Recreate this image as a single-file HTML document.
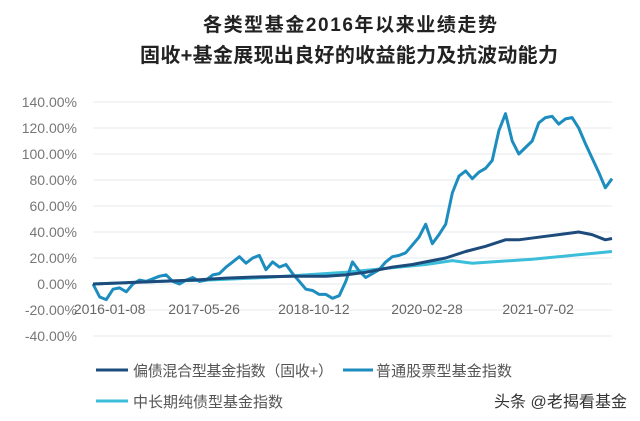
<!DOCTYPE html>
<html><head><meta charset="utf-8"><style>
body{margin:0;background:#fff;}
svg{display:block;font-family:"Liberation Sans","Noto Sans CJK SC",sans-serif;}
</style></head><body>
<svg id="chart" width="640" height="421" viewBox="0 0 640 421">
<text x="350" y="31" text-anchor="middle" font-size="19" font-weight="bold" fill="#222" textLength="294">各类型基金2016年以来业绩走势</text>
<text x="349" y="62" text-anchor="middle" font-size="20" font-weight="bold" fill="#222" textLength="418">固收+基金展现出良好的收益能力及抗波动能力</text>
<g id="grid"></g><g id="series"></g>
<g>
<line x1="96" y1="370" x2="128" y2="370" stroke="#1d4c7c" stroke-width="3"/>
<text x="133" y="376" font-size="15" fill="#555" textLength="200">偏债混合型基金指数（固收+）</text>
<line x1="343" y1="370" x2="373" y2="370" stroke="#1d8dbf" stroke-width="3"/>
<text x="376" y="376" font-size="15" fill="#555" textLength="136">普通股票型基金指数</text>
<line x1="96" y1="401" x2="128" y2="401" stroke="#3cbdd9" stroke-width="3"/>
<text x="133" y="407" font-size="15" fill="#555" textLength="150">中长期纯债型基金指数</text>
</g>
<text x="494" y="407" font-size="16" fill="#333" textLength="133">头条 @老揭看基金</text>
</svg>
<script>
const yTicks=[140,120,100,80,60,40,20,0,-20,-40];
const xTickLabels=["2016-01-08","2017-05-26","2018-10-12","2020-02-28","2021-07-02"];
const xTickMonths=[2.5,16.7,33.2,50.2,66.9];
const stockMonths=[0,1,2,3,4,5,6,7,8,9,10,11,12,13,14,15,16,17,18,19,20,21,22,23,24,25,26,27,28,29,30,31,32,33,34,35,36,37,38,39,40,41,42,43,44,45,46,47,48,49,50,51,52,53,54,55,56,57,58,59,60,61,62,63,64,65,66,67,68,69,70,71,72,73,74,75,76,77,78];
const stockValues=[0,-10,-12,-4,-3,-6,0,3,2,4,6,7,2,0,3,5,2,3,7,8,13,17,21,16,20,22,11,17,13,15,8,2,-4,-5,-8,-8,-11,-9,2,17,10,5,8,11,17,21,22,24,30,36,46,31,38,46,70,83,87,81,86,89,95,118,131,110,100,105,110,124,128,129,123,127,128,120,108,97,86,74,81];
const hybridMonths=[0,5,10,15,20,25,30,35,38,41,45,48,50,53,56,59,62,64,67,70,73,75,77,78];
const hybridValues=[0,1,2,3,4.5,5.5,6,6,7,9,13,15,17,20,25,29,34,34,36,38,40,38,34,35];
const bondMonths=[0,10,17,26,32,38,44,50,54,57,60,66,72,78];
const bondValues=[0,2,3,5,7,9,12,15,18,16,17,19,22,25];
const X0=93,X1=612,M1=78,Y0=284,PER20=26;
const xs=m=>X0+m*(X1-X0)/M1;
const ys=v=>Y0-v*PER20/20;
const NS="http://www.w3.org/2000/svg";
const grid=document.getElementById('grid');
yTicks.forEach(t=>{
 const l=document.createElementNS(NS,'line');
 l.setAttribute('x1',X0);l.setAttribute('x2',X1);l.setAttribute('y1',ys(t));l.setAttribute('y2',ys(t));
 l.setAttribute('stroke','#e6e9ee');l.setAttribute('stroke-width','1');
 
 
 grid.appendChild(l);
 const tx=document.createElementNS(NS,'text');
 tx.setAttribute('x',77);tx.setAttribute('y',ys(t)+5);tx.setAttribute('text-anchor','end');
 tx.setAttribute('font-size','14');tx.setAttribute('fill','#777');
 tx.textContent=t.toFixed(2)+'%';
 
 
 grid.appendChild(tx);
});
xTickLabels.forEach((s,i)=>{
 const tx=document.createElementNS(NS,'text');
 tx.setAttribute('x',xs(xTickMonths[i]));tx.setAttribute('y',314);tx.setAttribute('text-anchor','middle');
 tx.setAttribute('font-size','14');tx.setAttribute('fill','#666');
 tx.textContent=s;
 
 
 grid.appendChild(tx);
});
const ser=document.getElementById('series');
function draw(ms,vs,col,name){
 const p=document.createElementNS(NS,'polyline');
 p.setAttribute('points',ms.map((m,i)=>xs(m).toFixed(1)+','+ys(vs[i]).toFixed(1)).join(' '));
 p.setAttribute('fill','none');p.setAttribute('stroke',col);p.setAttribute('stroke-width','3');p.setAttribute('stroke-linejoin','round');
 
 
 ser.appendChild(p);
}
draw(bondMonths,bondValues,'#3cbdd9','bond-fund-line');
draw(stockMonths,stockValues,'#1d8dbf','stock-fund-line');
draw(hybridMonths,hybridValues,'#1d4c7c','hybrid-fund-line');
</script>
</body></html>
